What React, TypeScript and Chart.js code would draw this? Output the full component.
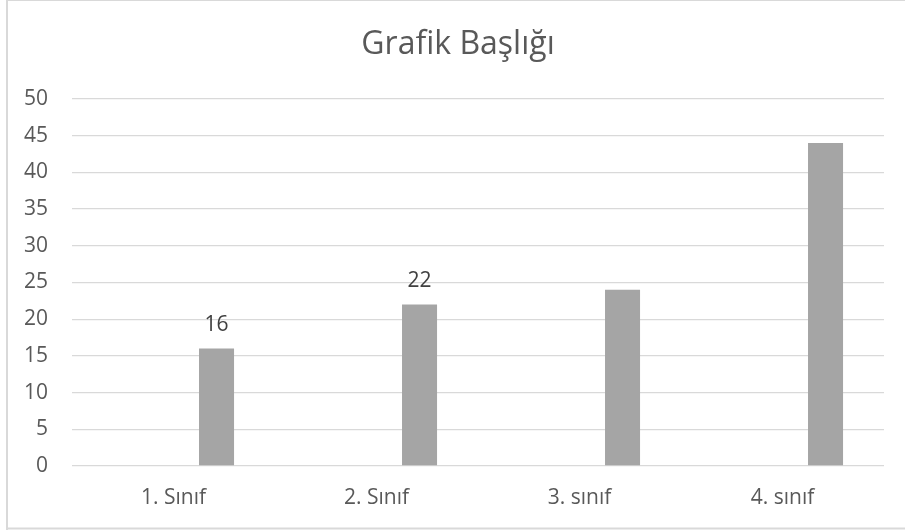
import React, { useEffect, useRef } from "react";
import { Chart, registerables } from "chart.js";

Chart.register(...registerables);

const chartTitle = "Grafik Başlığı";
const categories = ["1. Sınıf", "2. Sınıf", "3. sınıf", "4. sınıf"];
const seriesA: (number | null)[] = [null, null, null, null];
const seriesB: (number | null)[] = [null, null, null, null];
const seriesC: number[] = [16, 22, 24, 44];
const labelShown: boolean[] = [true, true, false, false];
const yMin = 0;
const yMax = 50;
const yStep = 5;

const FONT = "'Open Sans', 'Noto Sans', sans-serif";

const framePlugin = {
  id: "frame",
  beforeDraw(chart: any) {
    const ctx = chart.ctx;
    ctx.save();
    ctx.fillStyle = "#ffffff";
    ctx.fillRect(0, 0, chart.width, chart.height);
    ctx.fillStyle = "#d9d9d9";
    ctx.fillRect(6, 0, 2, 530);
    ctx.fillRect(6, 0, 905, 1);
    ctx.fillRect(6, 527.5, 905, 2);
    ctx.font = `32px ${FONT}`;
    ctx.fillStyle = "#595959";
    ctx.textAlign = "center";
    ctx.textBaseline = "middle";
    ctx.fillText(chartTitle, 458, 45);
    ctx.restore();
  },
};

const dataLabelPlugin = {
  id: "dataLabels",
  afterDatasetsDraw(chart: any) {
    const ctx = chart.ctx;
    const meta = chart.getDatasetMeta(2);
    ctx.save();
    ctx.font = `21px ${FONT}`;
    ctx.fillStyle = "#404040";
    ctx.textAlign = "center";
    ctx.textBaseline = "alphabetic";
    meta.data.forEach((bar: any, i: number) => {
      if (!labelShown[i]) return;
      ctx.fillText(String(seriesC[i]), bar.x, bar.y - 18);
    });
    ctx.restore();
  },
};

export default function App() {
  const ref = useRef<HTMLCanvasElement | null>(null);

  useEffect(() => {
    if (!ref.current) return;
    const chart = new Chart(ref.current, {
      type: "bar",
      data: {
        labels: categories,
        datasets: [
          { label: "Seri 1", data: seriesA, backgroundColor: "#4472C4" },
          { label: "Seri 2", data: seriesB, backgroundColor: "#ED7D31" },
          { label: "Seri 3", data: seriesC, backgroundColor: "#A5A5A5" },
        ],
      },
      options: {
        responsive: false,
        animation: false,
        devicePixelRatio: 1,
        layout: { padding: { top: 99, right: 21, bottom: 0, left: 0 } },
        datasets: {
          bar: { categoryPercentage: 0.636, barPercentage: 0.814 },
        },
        plugins: {
          legend: { display: false },
          tooltip: { enabled: false },
          title: { display: false },
        },
        scales: {
          x: {
            grid: { display: false, drawTicks: false },
            border: { display: false },
            ticks: {
              color: "#595959",
              font: { family: FONT, size: 21 },
              padding: 19,
              maxRotation: 0,
            },
            afterFit: (s: any) => {
              s.height = 64;
            },
          },
          y: {
            min: yMin,
            max: yMax,
            grid: { color: "#d9d9d9", lineWidth: 1.3, drawTicks: false },
            border: { display: false },
            ticks: {
              stepSize: yStep,
              color: "#595959",
              font: { family: FONT, size: 21 },
              padding: 24,
            },
            afterFit: (s: any) => {
              s.width = 72;
            },
          },
        },
      },
      plugins: [framePlugin, dataLabelPlugin],
    });
    return () => chart.destroy();
  }, []);

  return (
    <div style={{ position: "fixed", left: 0, top: 0, width: 905, height: 530, background: "#fff" }}>
      <canvas ref={ref} width={905} height={530} style={{ display: "block" }} />
    </div>
  );
}
